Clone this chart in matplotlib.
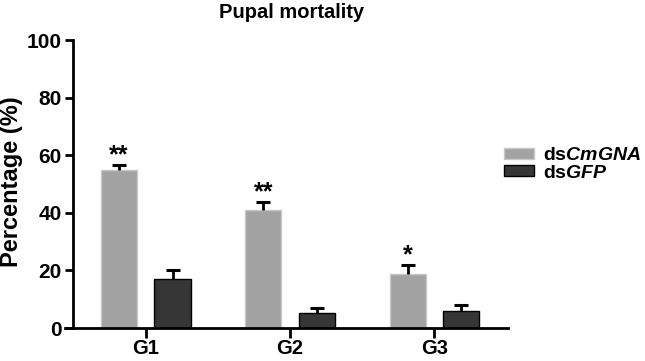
import numpy as np
import matplotlib.pyplot as plt

plt.rcParams['font.family'] = 'Liberation Sans'
plt.rcParams['font.weight'] = 'bold'
plt.rcParams['mathtext.fontset'] = 'custom'
plt.rcParams['mathtext.it'] = 'Liberation Sans:italic:bold'
plt.rcParams['mathtext.rm'] = 'Liberation Sans:bold'

groups = ['G1', 'G2', 'G3']
cmgna = [55.0, 40.8, 18.8]
cmgna_err = [1.7, 3.0, 3.1]
gfp = [17.0, 5.2, 6.0]
gfp_err = [3.2, 1.8, 2.0]
stars = ['**', '**', '*']

gray_c = '#a3a3a3'
dark_c = '#363636'

x = np.arange(len(groups))
w = 0.25
off = 0.185

fig = plt.figure(figsize=(6.45, 3.61), dpi=100)
ax = fig.add_axes([65/645, 33/361, 443/645, 288/361])

ax.bar(x - off, cmgna, w, color=gray_c, edgecolor='#c8c8c8', lw=1,
       label=r'ds$\mathit{CmGNA}$', zorder=2)
ax.bar(x + off, gfp, w, color=dark_c, edgecolor='black', lw=1,
       label=r'ds$\mathit{GFP}$', zorder=2)

# upper-only error bars
for xs, vals, errs in [(x - off, cmgna, cmgna_err), (x + off, gfp, gfp_err)]:
    vals = np.array(vals)
    errs = np.array(errs)
    ax.errorbar(xs, vals, yerr=[np.zeros(3), errs], fmt='none', ecolor='black',
                elinewidth=2, capsize=0, zorder=3)
    ax.plot(xs, vals + errs, ls='none', marker='_', ms=10, mew=2.2, color='black', zorder=3)

for i in range(3):
    ax.text(x[i] - off, cmgna[i] + cmgna_err[i] - 0.8, stars[i], ha='center', va='bottom',
            fontsize=18, fontweight='bold')

ax.set_xlim(-0.56, 2.51)
ax.set_ylim(0, 100)
ax.set_yticks([0, 20, 40, 60, 80, 100])
ax.set_xticks(x)
ax.set_xticklabels(groups)
ax.spines['top'].set_visible(False)
ax.spines['right'].set_visible(False)
ax.spines['left'].set_position(('data', -0.505))
ax.spines['left'].set_linewidth(2)
ax.spines['bottom'].set_linewidth(2)
ax.tick_params(axis='both', width=2, length=6)
ax.tick_params(axis='y', labelsize=15, pad=2)
ax.tick_params(axis='x', length=7, pad=1, labelsize=14.5)

fig.text(12/645, 1 - 182/361, 'Percentage (%)', rotation=90, ha='center', va='center',
         fontsize=17, fontweight='bold')
fig.text(292/645, 1 - 12/361, 'Pupal mortality', ha='center', va='center',
         fontsize=14.5, fontweight='bold')

fig.legend(loc='upper left', bbox_to_anchor=(486/645, 1 - 130/361), frameon=False,
           fontsize=14, handlelength=1.55, handleheight=0.55, handletextpad=0.5,
           labelspacing=0.0)

plt.savefig('out.png', dpi=100)
